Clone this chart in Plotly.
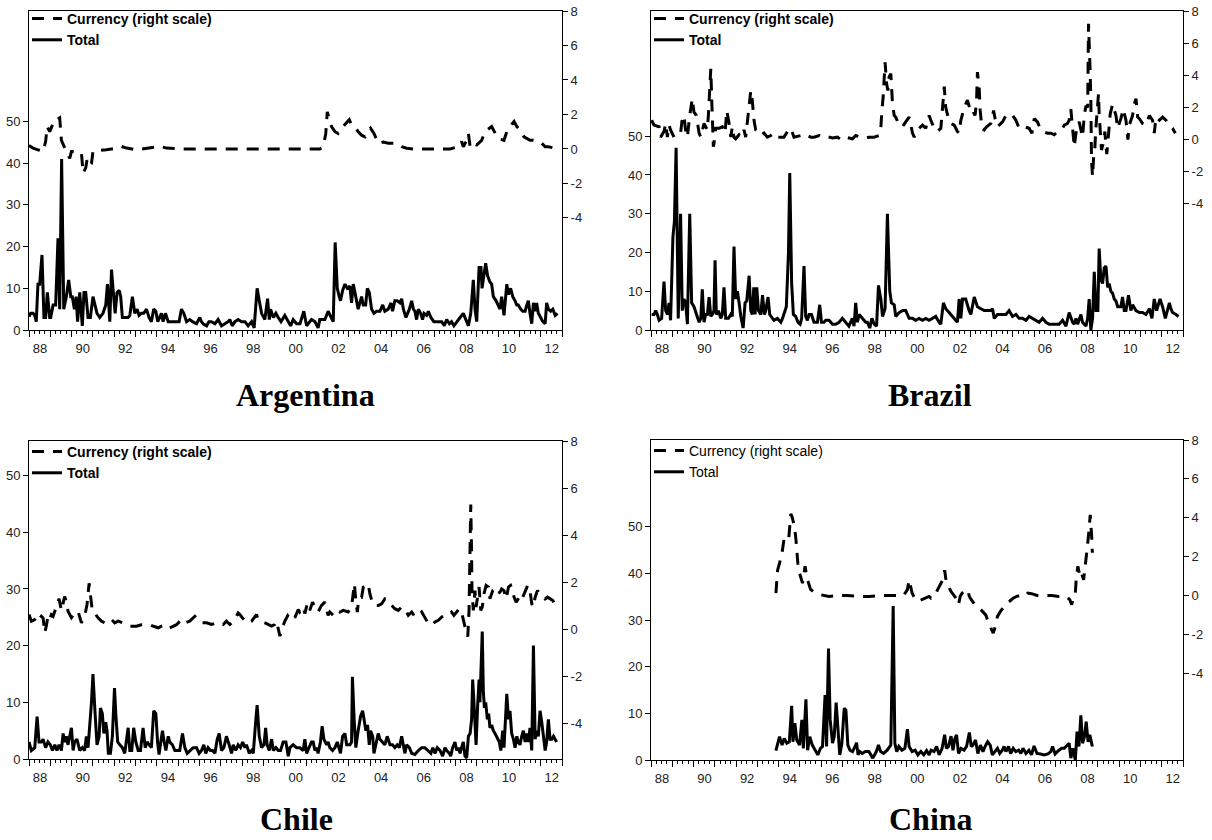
import plotly.graph_objects as go

# ---------------- data (decimal year, value) ----------------
ARG_TOTAL = [(1988.00,3.2),(1988.08,4),(1988.19,4),(1988.27,3.5),(1988.34,2),(1988.42,11),(1988.50,11),(1988.61,18),(1988.70,3),(1988.78,3),(1988.86,9),(1988.97,3),(1989.02,3),(1989.13,6),(1989.25,6),(1989.36,22),(1989.44,5),(1989.53,41),(1989.63,5),(1989.75,8),(1989.86,12),(1989.96,8),(1990.03,8),(1990.13,5),(1990.21,8),(1990.28,2),(1990.38,9),(1990.50,1),(1990.58,9),(1990.66,9),(1990.77,3),(1990.88,3),(1991.00,8),(1991.08,6),(1991.19,4),(1991.32,3),(1991.47,4),(1991.60,6),(1991.68,11),(1991.79,2),(1991.87,14.5),(1991.94,10),(1992.04,4),(1992.13,9),(1992.23,9.5),(1992.30,8),(1992.38,3),(1992.49,3),(1992.65,3),(1992.73,3.5),(1992.85,8),(1992.96,4),(1993.07,5),(1993.16,3.5),(1993.27,4),(1993.38,4),(1993.51,5),(1993.63,3),(1993.74,2),(1993.85,5),(1993.95,4.5),(1994.04,2),(1994.21,4),(1994.29,2),(1994.40,4),(1994.53,2),(1994.68,2),(1994.84,2),(1995.04,2),(1995.15,5),(1995.26,4),(1995.39,2),(1995.54,2.5),(1995.67,2),(1995.86,1.5),(1996.01,3),(1996.09,2),(1996.17,1.5),(1996.33,1),(1996.44,2),(1996.56,2),(1996.72,1.5),(1996.87,2.5),(1997.03,1),(1997.19,1.5),(1997.34,2),(1997.42,2.5),(1997.53,1),(1997.66,2),(1997.81,2.5),(1997.97,2),(1998.13,2),(1998.28,1),(1998.44,2),(1998.56,0.5),(1998.70,10),(1998.80,7),(1998.91,4),(1999.06,2.5),(1999.19,7.5),(1999.27,2.5),(1999.33,5),(1999.46,3),(1999.58,4),(1999.69,3),(1999.82,2),(2000.00,3.5),(2000.16,2),(2000.27,1),(2000.39,2.5),(2000.55,1.5),(2000.71,1.5),
             (2000.89,4.5),(2001.02,1),(2001.25,2.5),(2001.41,2),(2001.56,0.5),(2001.64,2.5),(2001.88,2.5),(2002.03,4.5),(2002.19,3),(2002.27,2),(2002.36,21),(2002.46,10),(2002.55,8),(2002.61,7),(2002.71,9.5),(2002.82,11),(2002.93,10),(2003.05,10.5),(2003.13,6.5),(2003.21,11),(2003.29,9),(2003.40,6),(2003.44,5),(2003.60,8),(2003.68,6),(2003.79,6),(2003.87,10),(2003.96,9),(2004.07,5),(2004.18,4),(2004.30,4.5),(2004.46,4.5),(2004.59,6),(2004.69,4.5),(2004.85,5),(2004.98,6.5),(2005.05,4.5),(2005.16,7),(2005.27,7),(2005.40,6.5),(2005.48,7.5),(2005.56,5),(2005.68,3),(2005.84,5),(2005.95,7),(2006.03,5),(2006.10,4.5),(2006.18,2.5),(2006.26,5),(2006.37,4),(2006.46,2.5),(2006.53,4),(2006.65,3.5),(2006.73,4.5),(2006.85,3),(2006.99,2),(2007.20,2),(2007.36,2),(2007.48,1),(2007.59,2.5),(2007.72,1.5),(2007.82,2),(2007.93,1),(2008.06,2),(2008.22,3),(2008.37,4),(2008.50,2.5),(2008.61,1),(2008.72,4),(2008.84,12),(2008.92,5),(2009.00,2),(2009.11,15),(2009.20,15),(2009.25,10),(2009.31,12),(2009.42,16),(2009.51,13),(2009.62,11.5),(2009.70,11),(2009.78,8),(2009.91,7),(2010.02,6),(2010.09,5),(2010.17,8),(2010.28,3.5),(2010.41,11),(2010.49,8.5),(2010.59,10),(2010.69,8),(2010.80,7),(2010.88,6),(2010.95,6),(2011.06,5),(2011.16,4.5),(2011.27,4.5),(2011.35,6),(2011.42,7),(2011.50,4),(2011.58,1.5),(2011.66,6.5),(2011.74,4.5),(2011.81,6.5),(2011.89,4),(2012.00,3),(2012.10,2),(2012.21,1.5),(2012.28,6.5),(2012.36,5),(2012.47,4.5),(2012.57,5),(2012.68,3.5),(2012.79,4)]

ARG_CURRENCY = [(1988.00,0.2),(1988.19,0.05),(1988.42,-0.05),(1988.66,-0.15),(1988.78,0.43),(1988.85,1.3),(1988.97,1.0),(1989.10,1.4),(1989.20,1.7),(1989.31,1.7),(1989.44,1.8),(1989.52,0.5),(1989.63,0.15),(1989.75,-0.15),(1989.91,-0.55),(1989.99,-0.15),(1990.14,-0.15),(1990.30,-0.25),(1990.46,-0.25),(1990.54,-1.4),(1990.66,-1.1),(1990.72,-0.65),(1990.82,-1.0),(1990.93,-0.85),(1991.00,-0.15),(1991.16,-0.1),(1991.63,-0.05),(1992.10,0.05),(1992.33,0.15),(1992.57,0.05),(1993.04,-0.05),(1993.51,0.05),(1994.13,0.15),(1994.45,0.05),(1995.07,0.0),(1996.0,0.0),(1997.5,0.0),(1999.0,0.0),(2000.7,0.03),
                (2001.17,0.0),(2001.64,0.0),(2001.80,0.13),(2001.92,0.9),(2001.99,2.15),(2002.08,1.7),(2002.19,1.3),(2002.35,1.0),(2002.50,0.9),(2002.66,1.2),(2002.82,1.4),(2003.02,1.7),(2003.13,1.4),(2003.29,1.3),(2003.44,1.0),(2003.60,0.8),(2003.76,0.7),(2003.91,1.0),(2004.02,1.2),(2004.18,0.9),(2004.38,0.33),(2004.62,0.4),(2004.85,0.33),(2005.24,0.33),(2005.48,0.13),(2005.71,0.04),(2006.03,0.0),(2006.65,0.0),(2007.28,0.0),(2007.75,0.0),(2008.14,0.13),(2008.29,0.43),(2008.37,0.13),(2008.53,0.5),(2008.61,0.9),(2008.69,0.13),(2008.76,0.33),(2009.00,0.23),(2009.23,0.5),(2009.39,1.0),(2009.70,1.3),(2009.86,0.9),(2010.00,0.6),(2010.28,0.5),(2010.41,1.0),(2010.56,1.3),(2010.75,1.6),(2010.88,1.3),(2011.03,1.1),(2011.22,0.7),(2011.35,0.6),(2011.50,0.5),(2011.66,0.5),(2011.89,0.43),(2012.05,0.33),(2012.21,0.13),(2012.36,0.13),(2012.68,0.04)]

BRA_TOTAL = [(1988.03,4),(1988.14,4),(1988.22,5),(1988.30,4),(1988.38,2.5),(1988.50,3),(1988.61,12.5),(1988.69,5),(1988.77,4),(1988.85,7),(1988.92,2.5),(1989.03,24),(1989.10,28),(1989.18,47),(1989.28,3),(1989.39,30),(1989.47,5),(1989.55,8),(1989.63,7),(1989.71,1.5),(1989.82,30),(1989.91,7),(1990.02,6),(1990.15,4),(1990.26,2),(1990.34,3),(1990.41,10.5),(1990.49,2),(1990.57,4),(1990.65,4),(1990.73,8.5),(1990.81,3.5),(1990.88,4),(1990.96,5),(1991.01,18),(1991.07,4),(1991.17,5),(1991.28,3),(1991.35,4),(1991.43,11),(1991.51,3),(1991.64,3),(1991.75,4),(1991.82,3.5),(1991.90,21.5),(1991.98,8),(1992.06,10),(1992.14,7),(1992.22,3.5),(1992.33,0.5),(1992.42,7),(1992.50,7.5),(1992.61,14),(1992.69,5),(1992.76,4),(1992.83,11),(1992.89,4),(1992.97,11),(1993.05,5),(1993.16,4),(1993.24,9),(1993.33,4),(1993.39,5),(1993.50,8.5),(1993.58,4),(1993.71,3),(1993.78,2.5),(1993.94,3),(1994.10,2),(1994.18,3),(1994.25,4),(1994.36,6),(1994.46,20),(1994.52,40.5),(1994.61,12),(1994.69,4),(1994.80,3.5),(1994.91,2),(1995.01,1.5),(1995.08,3),(1995.19,16.5),(1995.27,3.5),(1995.35,2.5),(1995.43,4),(1995.54,4),(1995.66,2),(1995.74,2),(1995.82,2),(1995.93,6.5),(1996.01,2),(1996.13,2),(1996.21,2.5),(1996.37,2.5),(1996.53,1.5),(1996.68,1.5),(1996.84,2),(1996.99,3),(1997.15,2),(1997.30,1),(1997.46,3),(1997.54,1),(1997.62,7),(1997.70,2),(1997.78,4),(1997.94,3),(1998.09,2),(1998.17,2),(1998.28,0.5),(1998.38,3),(1998.49,1.5),(1998.60,1),(1998.69,11.5),(1998.80,8),(1998.88,3.5),(1999.00,5.5),(1999.11,30),(1999.22,10),(1999.30,7),(1999.43,6.5),(1999.50,3.5),(1999.58,4),
             (1999.66,4.5),(1999.82,5),(1999.97,5),(2000.13,3),(2000.29,3),(2000.44,2.5),(2000.60,3),(2000.76,2.5),(2000.91,3),(2001.07,2.5),(2001.23,3),(2001.38,3.5),(2001.54,2),(2001.62,1.5),(2001.74,7),(2001.85,5.5),(2002.01,4.5),(2002.17,3.5),(2002.40,2),(2002.48,8),(2002.56,3),(2002.64,8),(2002.79,8),(2002.95,5),(2003.03,4),(2003.19,8.5),(2003.34,6),(2003.50,5.5),(2003.66,5),(2003.81,5),(2003.89,5),(2003.97,5),(2004.05,5.5),(2004.13,3),(2004.28,4),(2004.52,4),(2004.68,4),(2004.83,5),(2004.99,3.5),(2005.15,4),(2005.30,3),(2005.46,3),(2005.62,2.5),(2005.77,3.5),(2005.93,3),(2006.09,2.5),(2006.24,2),(2006.40,3),(2006.56,2),(2006.71,1.5),(2006.87,1.5),(2007.03,1.5),(2007.18,1.5),(2007.34,2.5),(2007.50,1),(2007.65,4.5),(2007.81,2),(2007.89,1.5),(2007.97,3),(2008.05,1.5),(2008.20,4),(2008.28,2),(2008.36,1.5),(2008.44,1),(2008.52,3),(2008.59,8),(2008.67,0),(2008.75,3),(2008.83,15),(2008.91,5),(2009.00,5),(2009.06,21),(2009.14,13),(2009.22,12),(2009.30,16),(2009.38,16.5),(2009.46,11),(2009.53,12),(2009.61,10),(2009.69,9.5),(2009.77,8),(2009.85,7.5),(2009.93,6),(2010.08,6),(2010.16,8.5),(2010.24,5),(2010.32,5),(2010.44,9),(2010.55,5),(2010.63,6.5),(2010.79,5),(2010.95,4.5),(2011.10,4.5),(2011.26,4),(2011.42,5.5),(2011.54,3),(2011.65,8),(2011.76,5),(2011.92,8),(2012.04,6),(2012.17,3),(2012.28,5),(2012.36,7),(2012.43,5.5),(2012.51,4.5),(2012.67,4),(2012.79,3.5)]

BRA_CURRENCY = [(1988.03,1.2),(1988.14,0.9),(1988.38,0.8),(1988.45,0.15),(1988.61,0.5),(1988.69,1.0),(1988.77,0.15),(1988.85,0.9),(1988.92,0.6),(1989.00,0.4),(1989.08,0.15),(1989.24,0.3),(1989.39,0.4),(1989.47,1.3),(1989.55,1.5),(1989.63,0.5),(1989.71,0.15),(1989.82,1.5),(1989.87,2.0),(1989.94,2.55),(1990.02,1.7),(1990.13,1.5),(1990.26,0.4),(1990.34,0.15),(1990.49,1.0),(1990.57,0.8),(1990.65,0.6),(1990.70,1.6),(1990.76,3.3),(1990.81,4.4),(1990.85,2.65),(1990.88,1.2),(1990.93,-0.45),(1990.96,-0.25),(1991.04,0.7),(1991.20,0.7),(1991.35,0.8),(1991.48,0.4),(1991.56,1.8),(1991.67,1.0),(1991.75,0.15),(1991.82,0.8),(1991.90,0.15),(1991.98,0.05),(1992.14,0.3),(1992.26,0.15),(1992.37,0.6),(1992.45,0.15),(1992.58,1.8),(1992.69,3.05),(1992.76,2.45),(1992.84,1.2),(1992.92,0.6),(1993.00,0.5),(1993.16,0.25),(1993.31,0.4),(1993.47,0.15),(1993.63,0.25),(1993.78,0.4),(1993.94,0.15),(1994.10,0.15),(1994.25,0.15),(1994.41,0.5),(1994.57,0.7),(1994.72,0.15),(1994.88,0.2),(1995.04,0.25),(1995.19,0.15),(1995.35,0.25),(1995.51,0.15),(1995.66,0.15),(1995.90,0.25),(1996.06,0.15),(1996.21,0.2),(1996.53,0.1),(1996.76,0.15),(1996.92,0.0),(1997.08,0.15),(1997.47,0.05),(1997.62,0.25),(1997.94,0.1),(1998.25,0.15),(1998.49,0.15),(1998.72,0.25),(1998.80,0.7),(1998.85,1.8),(1998.91,2.65),(1999.00,4.8),(1999.07,3.5),(1999.13,3.05),(1999.19,3.9),(1999.27,4.1),(1999.35,2.2),(1999.43,1.5),(1999.50,1.4),
                (1999.66,0.9),(1999.82,0.8),(1999.97,1.1),(2000.13,1.4),(2000.29,0.4),(2000.37,0.15),(2000.52,0.6),(2000.76,0.9),(2000.91,0.7),(2001.07,1.5),(2001.15,1.2),(2001.31,0.7),(2001.46,0.5),(2001.62,0.7),(2001.73,2.45),(2001.78,3.3),(2001.85,2.0),(2001.98,1.3),(2002.09,1.0),(2002.25,0.9),(2002.40,0.5),(2002.48,0.4),(2002.56,1.2),(2002.72,2.0),(2002.87,2.45),(2002.95,2.0),(2003.03,1.7),(2003.11,1.8),(2003.23,1.5),(2003.30,2.45),(2003.34,4.2),(2003.42,3.3),(2003.47,1.8),(2003.55,0.7),(2003.66,0.6),(2003.77,0.8),(2003.86,0.9),(2003.97,1.0),(2004.10,1.8),(2004.17,1.3),(2004.28,0.8),(2004.36,0.9),(2004.52,1.1),(2004.68,1.5),(2004.83,1.4),(2004.99,1.5),(2005.15,1.2),(2005.30,0.7),(2005.54,0.8),(2005.77,0.7),(2005.90,0.4),(2006.01,1.3),(2006.16,1.1),(2006.32,0.6),(2006.43,0.5),(2006.63,0.4),(2006.79,0.4),(2006.95,0.3),(2007.18,0.6),(2007.34,0.7),(2007.42,0.9),(2007.57,1.0),(2007.65,1.2),(2007.73,1.9),(2007.81,0.6),(2007.89,-0.45),(2007.97,0.4),(2008.05,0.9),(2008.12,1.1),(2008.20,0.5),(2008.28,0.15),(2008.36,1.5),(2008.44,2.1),(2008.52,2.0),(2008.56,7.2),(2008.63,4.5),(2008.67,2.45),(2008.70,-1.3),(2008.75,-2.3),(2008.80,-1.1),(2008.86,-0.45),(2008.91,0.8),(2008.99,2.2),(2009.03,2.85),(2009.06,1.6),(2009.11,0.4),(2009.17,-0.65),(2009.25,-0.25),(2009.33,0.5),(2009.38,-0.45),(2009.42,-0.9),(2009.49,0.15),(2009.53,1.0),(2009.58,1.6),(2009.69,2.2),(2009.77,1.8),(2009.85,1.5),(2009.93,0.7),(2010.08,1.3),(2010.19,1.9),(2010.32,1.2),(2010.41,0.0),(2010.48,0.9),(2010.63,1.5),(2010.71,2.2),(2010.79,2.55),(2010.87,1.4),(2010.95,1.3),(2011.10,1.0),(2011.26,0.9),(2011.42,1.5),(2011.57,1.2),(2011.65,0.4),(2011.73,1.4),(2011.89,1.2),(2012.04,1.4),(2012.20,1.2),(2012.36,0.9),(2012.51,0.7),(2012.64,0.4)]

CHL_TOTAL = [(1988.00,3),(1988.11,1.5),(1988.27,2),(1988.38,7.5),(1988.47,3),(1988.58,3),(1988.66,3.5),(1988.78,2),(1988.89,3),(1989.00,2.5),(1989.10,1.5),(1989.21,2.5),(1989.31,1.5),(1989.41,2.5),(1989.52,1.5),(1989.60,4.5),(1989.67,3),(1989.75,4),(1989.83,2.5),(1989.91,4),(1989.99,5.5),(1990.07,1.5),(1990.14,3),(1990.25,3.5),(1990.38,1.5),(1990.50,2),(1990.61,1.5),(1990.69,4),(1990.77,2),(1990.93,10),(1991.00,15),(1991.10,8),(1991.19,2.5),(1991.29,4),(1991.35,9),(1991.44,8),(1991.51,4.5),(1991.60,6.5),(1991.66,5),(1991.72,1),(1991.82,1),(1991.91,4),(1992.01,12.5),(1992.07,8),(1992.16,3),(1992.26,2.5),(1992.38,2),(1992.49,1),(1992.65,5.5),(1992.73,1.5),(1992.82,1.5),(1992.91,5.5),(1993.01,3),(1993.12,1.5),(1993.23,1.5),(1993.35,5.5),(1993.45,2),(1993.54,3),(1993.63,2.5),(1993.74,2),(1993.85,8.5),(1993.95,8),(1994.03,3),(1994.10,0.8),(1994.18,3),(1994.26,5),(1994.34,3),(1994.42,1.5),(1994.53,4),(1994.60,3),(1994.73,2.5),(1994.84,1.5),(1994.95,1.5),(1995.07,1.5),(1995.20,4.5),(1995.31,2),(1995.42,1),(1995.54,1.5),(1995.70,2),(1995.86,2),(1995.98,1),(1996.09,1.5),(1996.20,2.5),(1996.29,1),(1996.40,2),(1996.51,1.5),(1996.61,1.5),(1996.72,1),(1996.83,3.5),(1996.92,4.5),(1997.03,1.5),(1997.14,2),(1997.26,4),(1997.39,2.5),(1997.50,1),(1997.58,2.5),(1997.70,1.5),(1997.81,2.5),(1997.92,2),(1998.02,3),(1998.13,2),(1998.20,2.5),(1998.33,1),(1998.44,1.5),(1998.52,1),(1998.64,7),(1998.70,9.5),(1998.80,4),(1998.91,2),(1999.02,2.5),(1999.10,5.5),(1999.17,2.5),(1999.27,1.5),(1999.38,3.5),(1999.46,1.5),(1999.58,2),(1999.69,1.5),(1999.80,1.5),(1999.92,3),(2000.05,3),(2000.16,0.5),(2000.24,2),(2000.39,2.5),(2000.55,2),
             (2000.70,2),(2000.86,1.5),(2000.94,3.5),(2001.02,1),(2001.14,2),(2001.25,3),(2001.33,3),(2001.41,1.5),(2001.49,2),(2001.56,1),(2001.67,3),(2001.75,5.8),(2001.83,3.5),(2001.96,2.5),(2002.03,3),(2002.11,2),(2002.24,1.5),(2002.35,2),(2002.46,3),(2002.55,1.5),(2002.61,1),(2002.71,4),(2002.82,4.5),(2002.90,2.5),(2003.05,2.5),(2003.13,3),(2003.17,14.5),(2003.25,7),(2003.33,2),(2003.44,5),(2003.55,7.5),(2003.65,8.5),(2003.71,7),(2003.80,5),(2003.88,6),(2003.96,2.5),(2004.02,5),(2004.12,4),(2004.18,1),(2004.30,3),(2004.38,4.5),(2004.46,3.5),(2004.59,3),(2004.69,2.5),(2004.80,4),(2004.93,2.5),(2005.05,2.5),(2005.16,2),(2005.27,2.5),(2005.37,2),(2005.48,4),(2005.56,2.5),(2005.63,1),(2005.71,2.5),(2005.84,2),(2005.95,1),(2006.10,0.8),(2006.26,1.5),(2006.42,2),(2006.57,2),(2006.73,1.5),(2006.85,1),(2006.94,2),(2007.04,1),(2007.15,2),(2007.28,1.5),(2007.40,0.5),(2007.51,2),(2007.59,1.5),(2007.72,1),(2007.78,0.5),(2007.87,2),(2007.98,3),(2008.06,1.5),(2008.14,2),(2008.22,1),(2008.29,2),(2008.37,3),(2008.45,0.5),(2008.53,0.2),(2008.61,4),(2008.69,4.5),(2008.76,7),(2008.81,14),(2008.87,10),(2008.97,2.5),(2009.05,10),(2009.11,14),(2009.15,10),(2009.20,16),(2009.26,22.5),(2009.31,12),(2009.36,9),(2009.42,10),(2009.50,7),(2009.56,8),(2009.62,5.5),(2009.70,6),(2009.78,5),(2009.86,4.5),(2009.97,3.5),(2010.06,3),(2010.13,1.5),(2010.22,5),(2010.28,2),(2010.41,11.5),(2010.49,7),(2010.56,8.5),(2010.64,4.5),(2010.72,3.5),(2010.80,2),(2010.88,4),(2010.95,3),(2011.03,2.5),(2011.11,4),(2011.19,5),(2011.27,3),(2011.35,4.5),(2011.42,3),(2011.50,5.5),(2011.58,1.5),(2011.66,20),(2011.74,3.5),(2011.81,5),(2011.89,4),(2011.97,8.5),(2012.05,6.5),(2012.13,4),(2012.21,1.5),(2012.28,3),(2012.36,7),(2012.44,3.5),(2012.52,3.5),(2012.60,4),(2012.68,3.5),(2012.75,3)]

CHL_CURRENCY = [(1988.00,0.63),(1988.11,0.35),(1988.27,0.42),(1988.38,0.56),(1988.47,0.42),(1988.58,0.56),(1988.66,0.49),(1988.74,-0.14),(1988.81,0.14),(1988.89,0.56),(1988.97,0.42),(1989.05,0.63),(1989.13,0.56),(1989.31,1.1),(1989.41,1.3),(1989.52,0.8),(1989.67,1.4),(1989.75,1.2),(1989.83,0.77),(1989.99,0.5),(1990.14,0.7),(1990.30,0.77),(1990.46,0.28),(1990.61,0.55),(1990.72,1.05),(1990.82,1.96),(1990.88,1.47),(1990.97,0.77),(1991.08,0.7),(1991.24,0.49),(1991.40,0.35),(1991.55,0.28),(1991.71,0.28),(1991.87,0.42),(1992.02,0.28),(1992.18,0.35),(1992.41,0.28),(1992.73,0.14),(1993.04,0.14),(1993.27,0.2),(1993.51,0.2),(1993.67,0.2),(1993.82,0.14),(1994.06,0.07),(1994.21,0.14),(1994.45,0.2),(1994.60,0.07),(1994.76,0.14),(1994.92,0.2),(1995.15,0.42),(1995.31,0.28),(1995.54,0.35),(1995.78,0.56),(1995.93,0.42),(1996.09,0.28),(1996.33,0.28),(1996.56,0.21),(1996.80,0.28),(1996.95,0.28),(1997.11,0.21),(1997.26,0.35),(1997.42,0.21),(1997.58,0.35),(1997.73,0.56),(1997.81,0.7),(1997.89,0.63),(1998.05,0.42),(1998.20,0.28),(1998.44,0.35),(1998.59,0.56),(1998.67,0.63),(1998.75,0.42),(1998.91,0.35),(1999.06,0.28),(1999.22,0.21),(1999.38,0.14),(1999.53,0.21),(1999.61,0.35),(1999.77,-0.28),(1999.85,0.0),(2000.00,0.35),(2000.16,0.63),(2000.32,0.7),(2000.47,0.5),(2000.63,0.84),
                (2000.70,0.74),(2000.86,0.95),(2000.94,0.67),(2001.05,1.1),(2001.17,0.81),(2001.30,1.16),(2001.41,0.95),(2001.56,0.74),(2001.72,1.02),(2001.88,1.16),(2002.03,0.6),(2002.11,0.74),(2002.27,0.6),(2002.43,0.81),(2002.58,0.74),(2002.74,0.81),(2002.97,0.74),(2003.13,0.95),(2003.21,1.58),(2003.26,1.94),(2003.33,1.23),(2003.40,0.74),(2003.44,1.09),(2003.52,1.37),(2003.60,1.37),(2003.68,1.8),(2003.80,1.87),(2003.91,1.94),(2003.99,1.51),(2004.12,1.09),(2004.23,1.02),(2004.38,1.02),(2004.54,1.09),(2004.69,1.3),(2004.85,1.23),(2005.01,1.02),(2005.16,0.88),(2005.32,0.81),(2005.48,0.95),(2005.63,0.88),(2005.79,0.6),(2005.95,0.74),(2006.10,0.53),(2006.26,0.6),(2006.42,0.74),(2006.57,0.53),(2006.73,0.25),(2006.89,0.18),(2007.04,0.32),(2007.20,0.39),(2007.36,0.53),(2007.51,0.6),(2007.67,0.6),(2007.82,0.74),(2007.93,0.6),(2008.06,0.74),(2008.18,0.88),(2008.29,0.74),(2008.37,0.39),(2008.45,0.11),(2008.53,-0.1),(2008.58,-0.31),(2008.64,0.81),(2008.69,3.76),(2008.72,5.3),(2008.75,3.76),(2008.78,1.65),(2008.84,0.81),(2008.92,1.65),(2008.97,0.95),(2009.03,1.37),(2009.11,1.8),(2009.19,0.81),(2009.26,0.95),(2009.34,1.51),(2009.44,1.87),(2009.55,1.8),(2009.62,1.3),(2009.75,1.65),(2009.86,1.72),(2009.94,1.51),(2010.09,1.58),(2010.17,1.72),(2010.28,1.65),(2010.38,1.3),(2010.49,1.8),(2010.59,1.87),(2010.69,1.65),(2010.75,1.37),(2010.85,1.16),(2010.95,1.3),(2011.06,1.51),(2011.16,1.37),(2011.27,1.65),(2011.39,1.87),(2011.50,1.65),(2011.58,1.09),(2011.66,0.95),(2011.74,1.37),(2011.85,1.65),(2011.97,1.51),(2012.10,1.44),(2012.21,1.3),(2012.32,1.37),(2012.44,1.3),(2012.57,1.23),(2012.68,1.02),(2012.75,0.95)]

CHN_TOTAL = [(1993.87,2.0),(1994.04,5.0),(1994.16,3.2),(1994.26,4.6),(1994.38,3.6),(1994.50,3.9),(1994.61,11.6),(1994.67,3.9),(1994.76,7.9),(1994.85,4.3),(1994.98,3.2),(1995.09,8.6),(1995.16,2.5),(1995.28,13.0),(1995.36,2.1),(1995.46,5.0),(1995.58,3.2),(1995.70,2.1),(1995.84,1.1),(1995.96,2.5),(1996.06,2.9),(1996.18,13.9),(1996.25,2.9),(1996.34,23.9),(1996.42,8.6),(1996.53,3.6),(1996.61,5.0),(1996.70,12.3),(1996.79,5.0),(1996.87,1.1),(1996.97,3.6),(1997.08,11.1),(1997.16,10.7),(1997.25,3.2),(1997.35,2.1),(1997.47,1.8),(1997.59,2.9),(1997.66,3.7),(1997.73,1.1),(1997.81,1.8),(1997.93,1.4),(1998.07,1.8),(1998.24,1.8),(1998.42,0.4),(1998.59,1.8),(1998.69,3.2),(1998.79,1.8),(1998.93,1.4),(1999.10,2.1),(1999.27,3.2),(1999.38,33.0),(1999.46,3.6),(1999.55,1.8),(1999.65,2.9),(1999.79,2.1),(1999.93,2.5),(2000.05,6.6),(2000.13,2.9),(2000.27,1.8),(2000.41,2.1),(2000.54,1.1),(2000.68,1.8),(2000.82,1.1),(2000.95,2.0),(2001.07,1.1),(2001.16,2.1),(2001.30,1.8),(2001.42,2.9),(2001.54,1.1),(2001.68,2.5),(2001.80,5.4),(2001.88,2.5),(2001.98,2.9),(2002.10,5.1),(2002.19,2.1),(2002.28,4.6),(2002.36,5.4),(2002.45,1.4),(2002.57,2.5),(2002.71,2.1),(2002.83,2.9),(2002.96,5.9),(2003.05,2.9),(2003.13,3.2),(2003.25,4.3),(2003.36,1.4),(2003.48,3.2),(2003.60,1.8),(2003.70,2.9),(2003.82,3.9),(2003.94,3.2),(2004.04,1.1),(2004.16,1.8),(2004.28,2.5),(2004.39,1.4),(2004.51,2.1),(2004.59,2.9),(2004.68,1.8),(2004.80,2.9),(2004.90,1.4),(2005.02,2.5),(2005.14,1.8),(2005.28,2.1),(2005.38,1.4),(2005.48,2.5),(2005.62,1.4),(2005.76,2.1),(2005.88,1.1),(2006.00,3.0),(2006.14,1.4),(2006.31,1.3),(2006.48,1.1),(2006.65,1.3),(2006.79,1.8),(2006.87,2.9),(2006.99,1.3),(2007.17,2.1),(2007.30,2.5),(2007.42,2.5),(2007.54,3.2),(2007.65,3.6),(2007.73,0.4),(2007.82,2.5),(2007.94,0.0),(2008.02,6.1),(2008.11,2.9),(2008.20,9.6),(2008.28,3.6),(2008.37,5.0),(2008.45,8.2),(2008.54,3.9),(2008.62,5.4),(2008.74,2.9)]

CHN_CURRENCY = [(1993.87,0.12),(1993.95,1.3),(1994.04,1.66),(1994.16,2.2),(1994.25,2.9),(1994.33,3.0),(1994.47,2.9),(1994.57,4.2),(1994.64,4.0),(1994.74,3.55),(1994.81,2.9),(1994.90,1.66),(1994.98,1.15),(1995.12,0.63),(1995.24,1.5),(1995.33,0.9),(1995.50,0.3),(1995.76,0.12),(1996.01,0.03),(1996.36,-0.05),(1996.79,0.0),(1997.21,0.0),(1997.73,-0.05),(1998.24,-0.05),(1998.84,0.0),(1999.44,0.0),(1999.87,0.0),(2000.05,0.3),(2000.13,0.8),(2000.27,0.12),(2000.39,-0.14),(2000.56,-0.3),(2000.73,-0.22),(2000.90,-0.14),(2001.07,-0.05),(2001.16,-0.14),(2001.33,-0.05),(2001.47,0.3),(2001.59,0.55),(2001.71,0.8),(2001.80,1.3),(2001.88,0.63),(2001.98,0.46),(2002.10,0.2),(2002.22,0.03),(2002.33,-0.14),(2002.45,-0.48),(2002.53,-0.05),(2002.62,0.12),(2002.76,0.26),(2002.88,0.3),(2002.96,-0.05),(2003.05,-0.22),(2003.22,-0.48),(2003.43,-0.65),(2003.60,-0.82),(2003.73,-1.0),(2003.87,-1.42),(2003.99,-1.77),(2004.08,-1.94),(2004.16,-1.68),(2004.28,-1.08),(2004.42,-0.82),(2004.59,-0.57),(2004.73,-0.39),(2004.85,-0.3),(2005.02,-0.14),(2005.19,-0.05),(2005.36,0.0),(2005.54,-0.05),(2005.71,0.12),(2005.88,0.09),(2006.14,0.0),(2006.48,0.0),(2006.82,0.0),(2007.17,-0.05),(2007.51,-0.05),(2007.68,-0.22),(2007.77,-0.48),(2007.85,-0.05),(2007.94,0.12),(2007.99,0.98),(2008.06,1.5),(2008.16,0.98),(2008.23,1.15),(2008.33,0.8),(2008.40,1.66),(2008.49,2.35),(2008.57,3.2),(2008.64,4.15),(2008.71,3.0),(2008.74,2.2)]

COUNTRIES = ["Argentina", "Brazil", "Chile", "China"]
LEFT_TICKS = [0, 10, 20, 30, 40, 50]
RIGHT_TICKS = [-4, -2, 0, 2, 4, 6, 8]
YEARS = list(range(1988, 2014))
YEAR_LABELS = [("%02d" % (y % 100)) if (y % 2 == 0 and y <= 2012) else "" for y in YEARS]

# ---------------- layout geometry (pixels) ----------------
W, H = 1212, 840
PANELS = [
    # (x0, x1, ytop, ybottom, left max, right range, title x, title y, title anchor, legend top, bold legend)
    (29, 562, 11, 330, 76.5, (-10.5, 8.0), 305, 395, "middle", 3, True),
    (651, 1183, 11, 330, 82.3, (-11.85, 8.0), 930, 395, "middle", 3, True),
    (29, 562, 441, 759, 56.1, (-5.5, 8.0), 296, 839, "bottom", 436, True),
    (651, 1183, 440, 760, 68.6, (-8.47, 8.0), 931, 839, "bottom", 435, False),
]
SERIES = [(ARG_TOTAL, ARG_CURRENCY), (BRA_TOTAL, BRA_CURRENCY),
          (CHL_TOTAL, CHL_CURRENCY), (CHN_TOTAL, CHN_CURRENCY)]

AXIS_FONT = dict(family="Liberation Sans, Arial", size=13, color="#222222")
fig = go.Figure()
layout = dict(template="none", width=W, height=H, margin=dict(l=0, r=0, t=0, b=0, pad=0),
              paper_bgcolor="white", plot_bgcolor="white", showlegend=True,
              annotations=[])

for k, (panel, (tot, cur), name) in enumerate(zip(PANELS, SERIES, COUNTRIES), start=1):
    x0, x1, yt, yb, lmax, rrange, tcx, tcy, tanchor, legtop, bold = panel
    xa = "x" if k == 1 else "x%d" % k
    yl_i, yr_i = 2 * k - 1, 2 * k
    yl = "y" if yl_i == 1 else "y%d" % yl_i
    yr = "y%d" % yr_i
    leg = "legend" if k == 1 else "legend%d" % k

    fig.add_trace(go.Scatter(x=[p[0] for p in cur], y=[p[1] for p in cur], mode="lines",
                             name="Currency (right scale)", xaxis=xa, yaxis=yr, legend=leg,
                             line=dict(color="black", width=3.0, dash="12px,9px")))
    fig.add_trace(go.Scatter(x=[p[0] for p in tot], y=[p[1] for p in tot], mode="lines",
                             name="Total", xaxis=xa, yaxis=yl, legend=leg,
                             line=dict(color="black", width=3.0)))

    xdom = [x0 / W, x1 / W]
    ydom = [1 - yb / H, 1 - yt / H]
    xkey = "xaxis" if k == 1 else "xaxis%d" % k
    layout[xkey] = dict(domain=xdom, anchor=yl, range=[1988, 2013], showgrid=False, zeroline=False,
                        automargin=False,
                        showline=True, linecolor="black", linewidth=1, mirror=True,
                        tickmode="array", tickvals=YEARS, ticktext=YEAR_LABELS,
                        ticks="outside", ticklen=6, tickcolor="black", tickwidth=1,
                        ticklabelshift=11, tickfont=AXIS_FONT,
                        minor=dict(ticks="outside", ticklen=3, tickcolor="black", tickwidth=1,
                                   tickmode="linear", tick0=1988, dtick=0.25, showgrid=False))
    ylkey = "yaxis" if yl_i == 1 else "yaxis%d" % yl_i
    layout[ylkey] = dict(domain=ydom, anchor=xa, range=[0, lmax], showgrid=False, zeroline=False,
                         automargin=False,
                         showline=True, linecolor="black", linewidth=1,
                         tickmode="array", tickvals=LEFT_TICKS, ticktext=[str(v) for v in LEFT_TICKS],
                         ticks="outside", ticklen=5, tickcolor="black", tickfont=AXIS_FONT)
    layout["yaxis%d" % yr_i] = dict(overlaying=yl, side="right", anchor=xa, range=list(rrange),
                                    automargin=False,
                                    showgrid=False, zeroline=False, showline=True, linecolor="black",
                                    linewidth=1, tickmode="array", tickvals=RIGHT_TICKS,
                                    ticktext=[str(v) for v in RIGHT_TICKS],
                                    ticks="outside", ticklen=5, tickcolor="black", tickfont=AXIS_FONT)
    layout[leg] = dict(x=(x0 - 2) / W, y=1 - legtop / H, xanchor="left", yanchor="top",
                       bgcolor="rgba(0,0,0,0)", borderwidth=0, traceorder="normal",
                       tracegroupgap=0, itemwidth=30,
                       font=dict(family="Liberation Sans, Arial", size=14, color="black",
                                 weight="bold" if bold else "normal"))
    layout["annotations"].append(dict(text=name, x=tcx / W, y=1 - tcy / H, xref="paper", yref="paper",
                                      xanchor="center", yanchor=tanchor, showarrow=False,
                                      font=dict(family="Liberation Serif, Times New Roman", size=32,
                                                color="black", weight="bold")))

fig.update_layout(**layout)
fig.write_html("out.html")
